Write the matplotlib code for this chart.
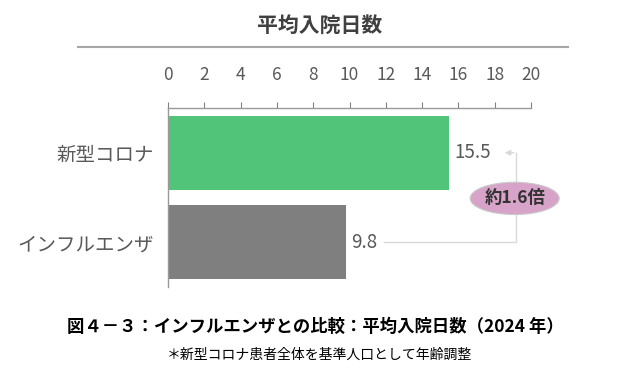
import matplotlib.pyplot as plt
from matplotlib.patches import Ellipse

plt.rcParams['font.family'] = ['Noto Sans CJK JP', 'DejaVu Sans']

categories = ['新型コロナ', 'インフルエンザ']
values = [15.5, 9.8]
colors = ['#52c47a', '#7f7f7f']
ticks = list(range(0, 21, 2))
ratio_label = '約1.6倍'

W, H = 642, 373
fig = plt.figure(figsize=(W / 100, H / 100), dpi=100)

# axes in pixel coords
x0, x1, y0, y1 = 168, 531, 108, 287
ax = fig.add_axes([x0 / W, 1 - y1 / H, (x1 - x0) / W, (y1 - y0) / H])
ypos = list(range(len(categories)))
ax.barh(ypos, values, height=0.83, color=colors)
ax.set_xlim(0, 20)
ax.set_ylim(1.5, -0.5)
ax.xaxis.tick_top()
ax.set_xticks(ticks)
ax.tick_params(axis='x', colors='#808080', labelcolor='#595959', labelsize=12.5,
               length=4, width=0.8, pad=13)
ax.set_yticks(ypos)
ax.set_yticklabels(categories)
ax.tick_params(axis='y', length=0, labelsize=14, labelcolor='#595959', pad=10)
for s in ['right', 'bottom']:
    ax.spines[s].set_visible(False)
for s in ['top', 'left']:
    ax.spines[s].set_color('#999999')
    ax.spines[s].set_linewidth(1)

for y, v in zip(ypos, values):
    ax.text(v + 0.3, y, f'{v}', va='center', ha='left', fontsize=13.5, color='#595959')

# connector between value labels
xc = 19.2
ax.plot([11.9, xc, xc], [ypos[1], ypos[1], ypos[0]], color='#d9d9d9', lw=1, clip_on=False)
ax.annotate('', xy=(18.4, ypos[0]), xytext=(xc + 0.02, ypos[0]),
            arrowprops=dict(arrowstyle='-|>', color='#d9d9d9', lw=1, mutation_scale=8),
            annotation_clip=False)
ax.add_patch(Ellipse((19.1, 0.51), 4.9, 0.36, facecolor='#d7a3c8', edgecolor='#c9c9c9',
                     lw=0.8, clip_on=False, zorder=5))
ax.text(19.1, 0.51, ratio_label, ha='center', va='center', fontsize=12.5,
        fontweight='bold', color='#333333', zorder=6)

# title and rule
fig.text(320 / W, 1 - 25 / H, '平均入院日数', ha='center', va='center',
         fontsize=15, fontweight='bold', color='#404040')
fig.add_artist(plt.Line2D([78 / W, 568 / W], [1 - 47 / H, 1 - 47 / H],
                          color='#a6a6a6', lw=1.5))

fig.text(315 / W, 1 - 327 / H, '図４－３：インフルエンザとの比較：平均入院日数（2024 年）',
         ha='center', va='center', fontsize=12.5, fontweight='bold', color='#000000')
fig.text(319 / W, 1 - 355 / H, '＊新型コロナ患者全体を基準人口として年齢調整',
         ha='center', va='center', fontsize=10, color='#000000')

fig.savefig('out.png', dpi=100)
